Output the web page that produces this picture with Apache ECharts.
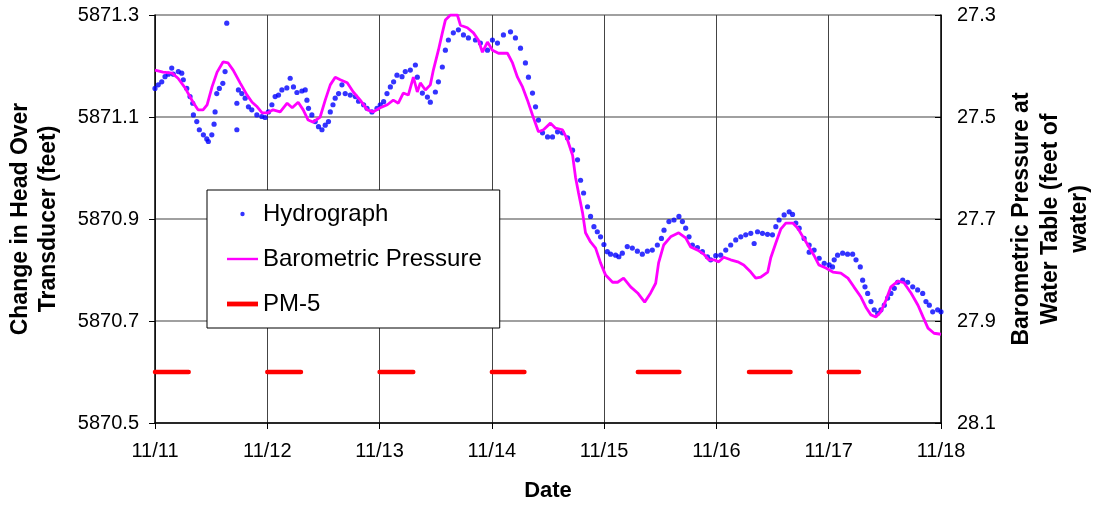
<!DOCTYPE html>
<html>
<head>
<meta charset="utf-8">
<script src="https://cdn.jsdelivr.net/npm/echarts@6/dist/echarts.min.js"></script>
<style>
html,body{margin:0;padding:0;background:#fff;overflow:hidden;}
#chart{width:1095px;height:507px;}
</style>
</head>
<body>
<div id="chart"></div>
<script>
// Days since 11/11 00:00
var dateLabels = ['11/11','11/12','11/13','11/14','11/15','11/16','11/17','11/18'];

// Hydrograph (left axis, feet)
var hydroDays = [0.000,0.029,0.060,0.089,0.119,0.149,0.163,0.208,0.238,0.252,0.283,0.312,0.336,0.342,0.372,0.395,0.431,0.461,0.475,0.506,0.526,0.535,0.550,0.573,0.604,0.624,0.639,0.729,0.729,0.743,0.773,0.803,0.832,0.862,0.907,0.951,0.981,1.010,1.041,1.070,1.100,1.130,1.174,1.204,1.233,1.264,1.308,1.338,1.353,1.367,1.397,1.427,1.456,1.487,1.516,1.545,1.561,1.585,1.605,1.635,1.665,1.694,1.739,1.784,1.813,1.858,1.888,1.932,1.977,2.006,2.036,2.066,2.096,2.125,2.155,2.200,2.229,2.274,2.319,
  2.336,2.381,2.426,2.452,2.497,2.524,2.559,2.586,2.613,2.657,2.702,2.747,2.791,2.854,2.898,2.961,3.005,3.050,3.103,3.166,3.210,3.255,3.299,3.326,3.362,3.389,3.415,3.451,3.496,3.540,3.585,3.629,3.674,3.719,3.763,3.790,3.817,3.852,
  3.879,3.909,3.939,3.968,3.998,4.028,4.057,4.102,4.131,4.162,4.206,4.251,4.296,4.340,4.385,4.429,4.474,4.510,4.533,4.577,4.622,4.666,4.697,4.726,4.756,4.786,4.831,4.875,4.920,4.949,4.994,5.038,5.083,5.127,5.172,5.217,5.261,5.306,5.336,5.366,5.410,5.455,5.499,5.529,5.558,5.603,5.648,5.678,5.707,5.737,5.781,5.826,5.826,5.870,5.915,5.960,6.004,6.034,6.049,6.079,6.124,6.168,6.213,6.243,6.281,6.302,6.323,6.347,6.376,6.405,6.436,6.465,6.495,6.525,6.554,6.584,6.614,6.659,6.703,6.748,6.792,6.837,6.866,6.896,6.926,6.970,7.000];
var hydroHead = [5871.156,5871.163,5871.169,5871.179,5871.184,5871.196,5871.184,5871.189,5871.186,5871.173,5871.156,5871.140,5871.127,5871.104,5871.091,5871.075,5871.065,5871.057,5871.052,5871.065,5871.086,5871.110,5871.146,5871.156,5871.166,5871.189,5871.284,5871.075,5871.127,5871.153,5871.146,5871.137,5871.120,5871.114,5871.104,5871.101,5871.099,5871.110,5871.124,5871.140,5871.143,5871.153,5871.157,5871.176,5871.159,5871.148,5871.151,5871.153,5871.133,5871.117,5871.104,5871.091,5871.081,5871.075,5871.084,5871.091,5871.110,5871.124,5871.137,5871.146,5871.163,5871.146,5871.143,5871.140,5871.131,5871.124,5871.117,5871.110,5871.117,5871.124,5871.130,5871.146,5871.159,5871.169,5871.182,5871.179,5871.189,5871.192,5871.202,
  5871.178,5871.147,5871.139,5871.129,5871.149,5871.169,5871.198,5871.231,5871.251,5871.265,5871.271,5871.261,5871.255,5871.251,5871.245,5871.231,5871.251,5871.245,5871.261,5871.267,5871.255,5871.235,5871.206,5871.178,5871.147,5871.120,5871.094,5871.069,5871.061,5871.061,5871.071,5871.069,5871.059,5871.035,5871.016,5870.976,5870.951,5870.924,
  5870.905,5870.885,5870.875,5870.865,5870.850,5870.836,5870.831,5870.829,5870.826,5870.833,5870.846,5870.843,5870.837,5870.831,5870.837,5870.839,5870.849,5870.862,5870.878,5870.895,5870.898,5870.905,5870.895,5870.882,5870.865,5870.849,5870.844,5870.836,5870.826,5870.820,5870.828,5870.829,5870.839,5870.849,5870.859,5870.865,5870.869,5870.872,5870.852,5870.875,5870.872,5870.870,5870.869,5870.885,5870.898,5870.908,5870.914,5870.909,5870.892,5870.882,5870.862,5870.849,5870.835,5870.839,5870.823,5870.813,5870.810,5870.806,5870.820,5870.829,5870.833,5870.831,5870.831,5870.820,5870.806,5870.780,5870.767,5870.754,5870.738,5870.722,5870.715,5870.722,5870.731,5870.745,5870.754,5870.764,5870.776,5870.780,5870.776,5870.767,5870.761,5870.754,5870.738,5870.731,5870.718,5870.722,5870.718];

// Barometric pressure (right axis, feet of water, inverted)
var baroDays = [0,0.071,0.152,0.205,0.268,0.339,0.383,0.428,0.464,0.508,0.553,0.606,0.651,0.696,0.758,0.820,0.865,0.910,0.954,0.999,1.052,1.115,1.177,1.222,1.275,1.320,1.364,1.409,1.471,1.516,1.561,1.605,1.650,1.712,1.766,1.828,1.891,1.944,2.006,2.069,2.122,2.167,2.211,2.256,2.301,2.336,2.363,2.408,2.452,2.479,2.524,2.559,2.586,2.631,2.693,2.720,2.782,2.836,2.880,2.916,2.961,3.005,3.059,3.139,3.184,3.228,3.273,3.317,3.362,3.415,3.460,3.522,3.567,3.629,3.674,3.719,3.745,3.772,3.808,3.834,3.879,3.924,3.968,4.013,4.075,4.120,4.173,4.236,4.298,4.361,4.414,4.459,4.485,4.530,4.592,4.664,4.726,4.771,4.833,4.887,4.931,4.976,5.021,5.065,5.127,5.190,5.243,5.306,5.350,5.395,5.457,5.484,5.529,5.573,5.618,5.680,5.725,5.770,5.814,5.868,5.912,5.975,6.037,6.108,6.171,6.224,6.287,6.331,6.376,6.420,6.465,6.510,6.554,6.617,6.670,6.733,6.795,6.840,6.884,6.938,7.000];
var baroPress = [27.408,27.412,27.414,27.424,27.443,27.471,27.486,27.486,27.476,27.441,27.412,27.392,27.394,27.408,27.433,27.457,27.471,27.480,27.492,27.492,27.486,27.490,27.473,27.482,27.471,27.486,27.506,27.510,27.500,27.467,27.437,27.422,27.427,27.433,27.451,27.467,27.486,27.490,27.482,27.476,27.467,27.473,27.453,27.457,27.422,27.451,27.433,27.447,27.437,27.408,27.369,27.335,27.310,27.300,27.300,27.320,27.325,27.335,27.349,27.373,27.353,27.369,27.375,27.375,27.394,27.422,27.441,27.467,27.496,27.529,27.525,27.512,27.522,27.525,27.545,27.575,27.618,27.649,27.688,27.727,27.745,27.757,27.786,27.810,27.824,27.824,27.816,27.833,27.845,27.863,27.845,27.826,27.786,27.751,27.735,27.727,27.737,27.755,27.761,27.769,27.780,27.780,27.784,27.775,27.780,27.784,27.790,27.804,27.816,27.814,27.804,27.776,27.747,27.720,27.708,27.708,27.718,27.735,27.751,27.771,27.790,27.796,27.804,27.806,27.816,27.833,27.853,27.873,27.888,27.892,27.882,27.859,27.833,27.822,27.825,27.845,27.869,27.892,27.914,27.924,27.926];

// PM-5 pumping periods (left axis)
var pmStart = [0.00,1.00,2.00,3.00,4.30,5.29,6.00];
var pmEnd   = [0.30,1.30,2.30,3.29,4.67,5.66,6.27];
var pmLevel = 5870.6;

var hydroData = hydroDays.map(function(d,i){return [d, hydroHead[i]];});
var baroData = baroDays.map(function(d,i){return [d, baroPress[i]];});
var pmData = [];
pmStart.forEach(function(s,i){
  pmData.push([s, pmLevel]);
  pmData.push([pmEnd[i], pmLevel]);
  pmData.push([pmEnd[i], null]);
});

var FONT = 'Liberation Sans, Arial, sans-serif';
var chart = echarts.init(document.getElementById('chart'), null, {renderer:'canvas'});
chart.setOption({
  animation: false,
  backgroundColor: '#ffffff',
  textStyle: {fontFamily: FONT, color: '#000'},
  grid: {left: 155, right: 154, top: 15, bottom: 84, containLabel: false, outerBoundsMode: 'none'},
  legend: {
    orient: 'vertical',
    left: 207, top: 190,
    padding: [12, 18, 12, 20],
    itemGap: 21,
    itemWidth: 31, itemHeight: 14,
    itemTextGap: 6,
    backgroundColor: '#ffffff',
    borderColor: '#000000',
    borderWidth: 1,
    textStyle: {fontFamily: FONT, fontSize: 24, color: '#000'},
    data: [
      {name: 'Hydrograph', icon: 'path://M0,0M31,14M15.5,4.8a2.2,2.2 0 1,1 0,4.4a2.2,2.2 0 1,1 0,-4.4z'},
      {name: 'Barometric Pressure', icon: 'path://M0,0M31,14M0,5.8h31v2.4h-31z'},
      {name: 'PM-5', icon: 'path://M0,0M31,14M0,4.6h31v4.8h-31z'}
    ]
  },
  xAxis: {
    type: 'value', min: 0, max: 7, interval: 1,
    name: 'Date', nameLocation: 'middle', nameGap: 57,
    nameTextStyle: {fontFamily: FONT, fontSize: 22, fontWeight: 'bold', color: '#000'},
    axisLine: {show: true, onZero: false, lineStyle: {color: '#000', width: 1.5}},
    axisTick: {show: true, inside: false, length: 6, lineStyle: {color: '#000', width: 1}},
    axisLabel: {fontFamily: FONT, fontSize: 20, color: '#000', margin: 18,
      formatter: function(v){ return dateLabels[Math.round(v)]; }},
    splitLine: {show: true, lineStyle: {color: '#444', width: 1}}
  },
  yAxis: [
    {
      type: 'value', position: 'left', min: 5870.5, max: 5871.3, interval: 0.2,
      name: 'Change in Head Over\nTransducer (feet)', nameLocation: 'middle', nameRotate: 90, nameGap: 92,
      nameTextStyle: {fontFamily: FONT, fontSize: 23, fontWeight: 'bold', color: '#000', lineHeight: 28},
      axisLine: {show: true, lineStyle: {color: '#000', width: 1.5}},
      axisTick: {show: true, inside: false, length: 6, lineStyle: {color: '#000'}},
      axisLabel: {fontFamily: FONT, fontSize: 20, color: '#000', margin: 16,
        formatter: function(v){ return v.toFixed(1); }},
      splitLine: {show: true, lineStyle: {color: '#808080', width: 1.5}}
    },
    {
      type: 'value', position: 'right', min: 27.3, max: 28.1, interval: 0.2, inverse: true,
      name: 'Barometric Pressure at\nWater Table (feet of\nwater)', nameLocation: 'middle', nameRotate: 90, nameGap: 64,
      nameTextStyle: {fontFamily: FONT, fontSize: 23, fontWeight: 'bold', color: '#000', lineHeight: 29},
      axisLine: {show: true, lineStyle: {color: '#000', width: 1.5}},
      axisTick: {show: true, inside: true, length: 6, lineStyle: {color: '#000'}},
      axisLabel: {fontFamily: FONT, fontSize: 20, color: '#000', margin: 16,
        formatter: function(v){ return v.toFixed(1); }},
      splitLine: {show: false}
    }
  ],
  series: [
    {
      name: 'Hydrograph', type: 'scatter', yAxisIndex: 0,
      data: hydroData, symbol: 'circle', symbolSize: 5.2,
      itemStyle: {color: '#0000FF'}, z: 3
    },
    {
      name: 'Barometric Pressure', type: 'line', yAxisIndex: 1,
      data: baroData, showSymbol: false, symbol: 'none', smooth: false,
      lineStyle: {color: '#FF00FF', width: 2.8}, itemStyle: {color: '#FF00FF'}, z: 4
    },
    {
      name: 'PM-5', type: 'line', yAxisIndex: 0,
      data: pmData, showSymbol: false, symbol: 'none', connectNulls: false,
      lineStyle: {color: '#FF0000', width: 4.5, cap: 'round'}, itemStyle: {color: '#FF0000'}, z: 4
    }
  ]
});
</script>
</body>
</html>
